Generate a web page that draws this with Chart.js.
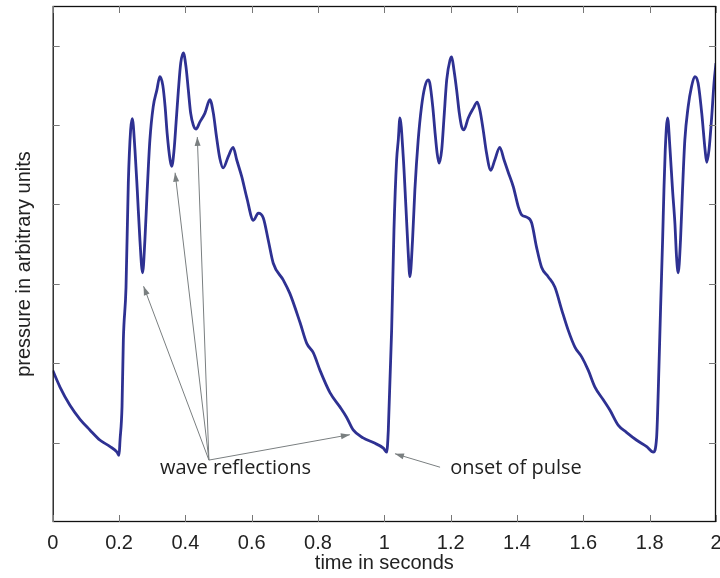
<!DOCTYPE html>
<html>
<head>
<meta charset="utf-8">
<script src="https://cdn.jsdelivr.net/npm/chart.js@4/dist/chart.umd.min.js"></script>
<style>
  html, body { margin: 0; padding: 0; background: #fff; }
  #wrap { width: 720px; height: 578px; }
</style>
</head>
<body>
<div id="wrap"><canvas id="pulse"></canvas></div>
<script>
// time (s) and pressure (arbitrary units)
const times = [
  0, 0.022, 0.052, 0.083, 0.112, 0.143, 0.173, 0.194, 0.200, 0.203, 0.209, 0.213, 0.221, 0.228, 0.235, 0.240,
  0.248, 0.255, 0.263, 0.271, 0.278, 0.285, 0.293, 0.303, 0.314, 0.323, 0.332, 0.339, 0.345, 0.354, 0.359,
  0.366, 0.372, 0.379, 0.386, 0.394, 0.402, 0.409, 0.416, 0.424, 0.432, 0.444, 0.459, 0.474, 0.484, 0.494,
  0.504, 0.514, 0.529, 0.544, 0.555, 0.570, 0.585, 0.605, 0.620, 0.635, 0.650, 0.665, 0.695, 0.715, 0.746,
  0.766, 0.786, 0.806, 0.836, 0.866, 0.886, 0.906, 0.936, 0.967, 0.997, 1.007, 1.012, 1.022, 1.029, 1.037,
  1.042, 1.047, 1.057, 1.065, 1.072, 1.077, 1.085, 1.092, 1.102, 1.112, 1.122, 1.132, 1.137, 1.146, 1.153,
  1.159, 1.165, 1.173, 1.180, 1.188, 1.198, 1.203, 1.210, 1.218, 1.226, 1.233, 1.240, 1.253, 1.268, 1.280,
  1.288, 1.298, 1.308, 1.321, 1.333, 1.348, 1.361, 1.374, 1.389, 1.404, 1.414, 1.429, 1.444, 1.459, 1.474,
  1.494, 1.514, 1.535, 1.554, 1.575, 1.595, 1.615, 1.635, 1.660, 1.680, 1.705, 1.730, 1.761, 1.791, 1.811,
  1.821, 1.826, 1.833, 1.839, 1.843, 1.847, 1.854, 1.861, 1.869, 1.876, 1.881, 1.886, 1.893, 1.899, 1.906,
  1.916, 1.926, 1.936, 1.946, 1.957, 1.967, 1.972, 1.979, 1.987, 1.994, 2.000
];
const pressure = [
  1.91, 1.70, 1.47, 1.29, 1.16, 1.03, 0.95, 0.88, 0.84, 1.03, 1.45, 2.29, 2.95, 4.27, 4.94, 5.08,
  4.69, 4.18, 3.55, 3.14, 3.55, 4.18, 4.81, 5.23, 5.44, 5.61, 5.50, 5.23, 4.90, 4.56, 4.48,
  4.69, 5.03, 5.44, 5.78, 5.91, 5.73, 5.44, 5.15, 5.00, 4.95, 5.04, 5.15, 5.32, 5.16, 4.85,
  4.58, 4.46, 4.60, 4.72, 4.56, 4.35, 4.09, 3.80, 3.89, 3.83, 3.55, 3.26, 3.05, 2.88, 2.51,
  2.25, 2.13, 1.91, 1.63, 1.45, 1.32, 1.16, 1.06, 1.00, 0.93, 0.88, 1.16, 2.42, 3.68, 4.56,
  4.81, 5.09, 4.60, 3.97, 3.39, 3.09, 3.55, 4.18, 4.81, 5.23, 5.48, 5.57, 5.53, 5.23, 4.90,
  4.65, 4.52, 4.69, 5.10, 5.57, 5.82, 5.86, 5.69, 5.44, 5.15, 4.98, 4.94, 5.09, 5.21, 5.29,
  5.19, 4.94, 4.65, 4.43, 4.56, 4.72, 4.56, 4.40, 4.22, 3.97, 3.87, 3.84, 3.77, 3.46, 3.21,
  3.09, 2.96, 2.67, 2.42, 2.20, 2.08, 1.91, 1.70, 1.54, 1.41, 1.22, 1.13, 1.03, 0.95, 0.88,
  1.07, 1.66, 2.71, 3.55, 4.18, 4.69, 5.09, 4.72, 4.18, 3.77, 3.34, 3.14, 3.55, 4.18, 4.81,
  5.23, 5.48, 5.61, 5.53, 5.15, 4.69, 4.53, 4.69, 5.10, 5.53, 5.78
];
const xTicks = [0, 0.2, 0.4, 0.6, 0.8, 1, 1.2, 1.4, 1.6, 1.8, 2];
const yTicks = [1, 2, 3, 4, 5, 6];

// annotations in data units: [fromT, fromP, toT, toP]
const reflectionArrows = [
  [0.471, 0.78, 0.274, 2.97],
  [0.471, 0.78, 0.369, 4.40],
  [0.471, 0.78, 0.436, 4.85],
  [0.471, 0.78, 0.896, 1.10]
];
const onsetArrow = [1.168, 0.69, 1.032, 0.86];
const notes = [
  { text: 'wave reflections', t: 0.551, p: 0.68 },
  { text: 'onset of pulse', t: 1.397, p: 0.68 }
];

const points = times.map((t, i) => ({ x: t, y: pressure[i] }));

function arrow(ctx, x1, y1, x2, y2) {
  ctx.beginPath();
  ctx.moveTo(x1, y1);
  ctx.lineTo(x2, y2);
  ctx.stroke();
  const a = Math.atan2(y2 - y1, x2 - x1);
  const len = 9, w = 3;
  ctx.beginPath();
  ctx.moveTo(x2, y2);
  ctx.lineTo(x2 - len * Math.cos(a) + w * Math.sin(a), y2 - len * Math.sin(a) - w * Math.cos(a));
  ctx.lineTo(x2 - len * Math.cos(a) - w * Math.sin(a), y2 - len * Math.sin(a) + w * Math.cos(a));
  ctx.closePath();
  ctx.fill();
}

const framePlugin = {
  id: 'frame',
  afterDatasetsDraw(chart) {
    const { ctx, chartArea: a, scales: { x, y } } = chart;
    ctx.save();
    // annotations
    ctx.strokeStyle = '#7a7f80';
    ctx.fillStyle = '#7a7f80';
    ctx.lineWidth = 1;
    reflectionArrows.concat([onsetArrow]).forEach(r => {
      arrow(ctx, x.getPixelForValue(r[0]), y.getPixelForValue(r[1]), x.getPixelForValue(r[2]), y.getPixelForValue(r[3]));
    });
    ctx.fillStyle = '#222';
    ctx.font = '20px "Open Sans", "DejaVu Sans", sans-serif';
    ctx.textAlign = 'center';
    ctx.textBaseline = 'middle';
    notes.forEach(n => ctx.fillText(n.text, x.getPixelForValue(n.t), y.getPixelForValue(n.p)));

    // box and inward ticks
    ctx.strokeStyle = '#111';
    ctx.lineWidth = 1.3;
    ctx.strokeRect(a.left + 0.5, a.top + 0.5, a.right - a.left - 1, a.bottom - a.top - 1);
    ctx.strokeStyle = '#777';
    ctx.lineWidth = 1;
    ctx.beginPath();
    xTicks.forEach(v => {
      const px = Math.round(x.getPixelForValue(v)) + 0.5;
      ctx.moveTo(px, a.bottom); ctx.lineTo(px, a.bottom - 7);
      ctx.moveTo(px, a.top); ctx.lineTo(px, a.top + 7);
    });
    yTicks.forEach(v => {
      const py = Math.round(y.getPixelForValue(v)) + 0.5;
      ctx.moveTo(a.left, py); ctx.lineTo(a.left + 7, py);
      ctx.moveTo(a.right, py); ctx.lineTo(a.right - 7, py);
    });
    ctx.stroke();
    ctx.restore();
  }
};

new Chart(document.getElementById('pulse'), {
  type: 'line',
  data: {
    datasets: [{
      data: points,
      borderColor: '#2e3192',
      borderWidth: 2.8,
      pointRadius: 0,
      cubicInterpolationMode: 'monotone',
      fill: false
    }]
  },
  options: {
    responsive: true,
    maintainAspectRatio: false,
    animation: false,
    layout: { padding: { top: 6, right: 4, left: 0, bottom: 0 } },
    plugins: { legend: { display: false }, tooltip: { enabled: false } },
    scales: {
      x: {
        type: 'linear',
        min: 0,
        max: 2,
        afterBuildTicks: s => { s.ticks = xTicks.map(v => ({ value: v })); },
        afterFit: s => { s.height = 56; s.paddingLeft = 0; s.paddingRight = 0; },
        grid: { display: false, drawTicks: false },
        border: { display: false },
        ticks: {
          color: '#222',
          padding: 9,
          maxRotation: 0,
          autoSkip: false,
          font: { family: '"Liberation Sans", Arial, sans-serif', size: 20 },
          callback: v => String(Number(v.toFixed(1)))
        },
        title: {
          display: true,
          text: 'time in seconds',
          color: '#222',
          padding: { top: 0, bottom: 3 },
          font: { family: '"Liberation Sans", Arial, sans-serif', size: 20 }
        }
      },
      y: {
        min: 0,
        max: 6.5,
        afterFit: s => { s.width = 52.7; s.paddingTop = 0; s.paddingBottom = 0; },
        grid: { display: false },
        border: { display: false },
        ticks: { display: false },
        title: {
          display: true,
          text: 'pressure in arbitrary units',
          color: '#222',
          padding: { top: 12, bottom: 0 },
          font: { family: '"Liberation Sans", Arial, sans-serif', size: 20 }
        }
      }
    }
  },
  plugins: [framePlugin]
});
</script>
</body>
</html>
